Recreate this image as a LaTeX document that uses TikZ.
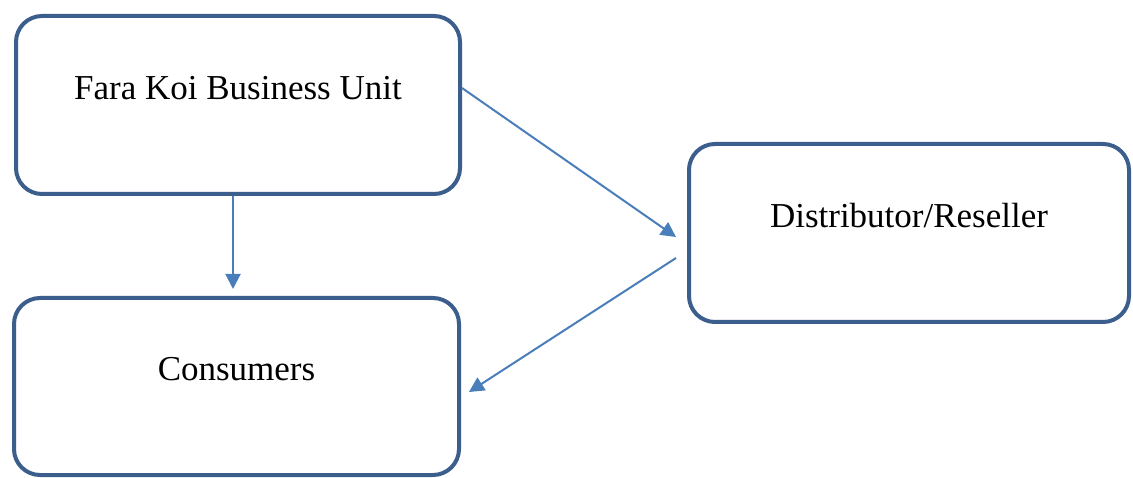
\documentclass[tikz,border=0pt]{standalone}
\usepackage{fontspec}
\setmainfont{Liberation Serif}
\usetikzlibrary{arrows.meta}
\definecolor{boxblue}{HTML}{3B5E8C}
\definecolor{arrowblue}{HTML}{4A7EBB}
\begin{document}
\begin{tikzpicture}[x=1pt, y=-1pt, line join=round, >={Triangle[length=15pt,width=15pt]},
	box/.style={draw=boxblue, line width=4pt, fill=white, rounded corners=26pt, minimum height=178pt,
		text height=24pt, text depth=35pt, font=\fontsize{35}{40}\selectfont},
	flow/.style={->, draw=arrowblue, line width=2pt}]
			\useasboundingbox (0,0) rectangle (1133,478);
			\node[box, minimum width=444pt] (unit) at (238,105) {Fara Koi Business Unit};
			\node[box, minimum width=440pt] (dist) at (909,233) {Distributor/Reseller};
			\node[box, minimum width=445pt, minimum height=177pt] (cons) at (236.5,386.5) {Consumers};
			\draw[flow, shorten >=7pt] ([xshift=-5pt]unit.south) -- ([xshift=-5pt]unit.south |- cons.north);
			\draw[flow] ([yshift=17pt]unit.east) -- ([xshift=-11pt,yshift=-4pt]dist.west);
			\draw[flow] ([xshift=-11pt,yshift=-25pt]dist.west) -- ([xshift=8pt,yshift=-5.5pt]cons.east);
		\end{tikzpicture}
\end{document}
